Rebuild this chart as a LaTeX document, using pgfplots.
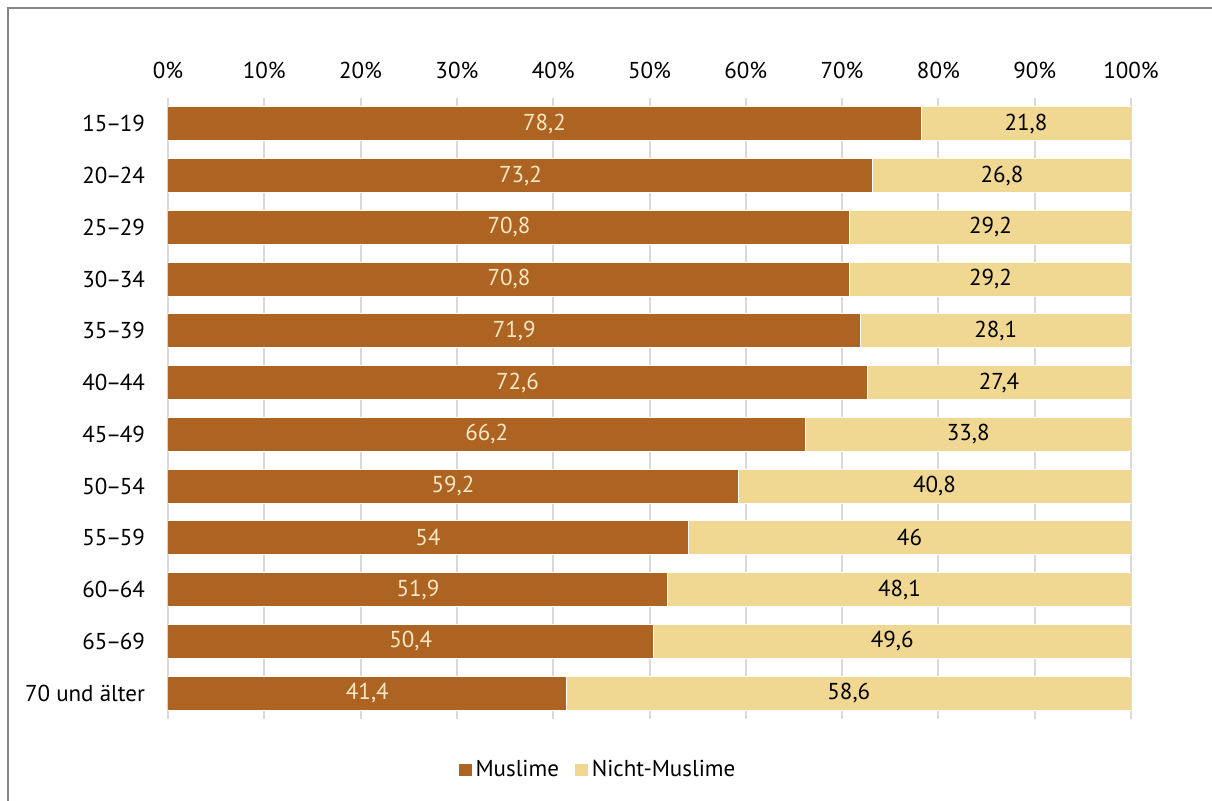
\documentclass[border=0pt]{standalone}
\usepackage{fontspec}
\setmainfont{PT Sans}
\usepackage{pgfplots}
\usepackage{pgfplotstable}
\pgfplotsset{compat=1.18}
\definecolor{mbrown}{HTML}{AD6322}
\definecolor{mlight}{HTML}{F0D893}
\definecolor{mlabel}{HTML}{F8E8C4}
\definecolor{gridgray}{HTML}{D9D9D9}
\definecolor{framegray}{HTML}{858585}
\newcommand{\dash}{\kern-0.06em–\kern-0.06em}
\pgfplotstableread{
y m n
11 78.2 21.8
10 73.2 26.8
9 70.8 29.2
8 70.8 29.2
7 71.9 28.1
6 72.6 27.4
5 66.2 33.8
4 59.2 40.8
3 54 46
2 51.9 48.1
1 50.4 49.6
0 41.4 58.6
}\data
\begin{document}
\fontsize{11.5pt}{13.8pt}\selectfont
\begin{tikzpicture}[x=1pt,y=1pt]
\useasboundingbox (0,0) rectangle (606,400.5);
\draw[framegray, line width=1pt] (4,0) -- (4,396.3) -- (606,396.3);
\begin{axis}[
  at={(84pt,41pt)}, anchor=south west,
  scale only axis, width=481.5pt, height=310.5pt,
  xbar stacked, bar width=17pt,
  xmin=0, xmax=100, ymin=-0.5, ymax=11.5,
  enlargelimits=false,
  axis line style={draw=none},
  major tick style={draw=none},
  xmajorgrids, grid style={gridgray, line width=1pt},
  xtick={0,10,...,100},
  xticklabel pos=upper,
  xticklabel={\pgfmathprintnumber{\tick}\%},
  xticklabel style={anchor=base, yshift=9.5pt},
  ytick={0,...,11},
  yticklabels={70 und älter,65\dash69,60\dash64,55\dash59,50\dash54,45\dash49,40\dash44,35\dash39,30\dash34,25\dash29,20\dash24,15\dash19},
  yticklabel style={anchor=east, xshift=-7.5pt},
  /pgf/number format/assume math mode=true,
  /pgf/number format/use comma,
  ticklabel style={font=\fontsize{11.5pt}{13.8pt}\selectfont},
  legend style={draw=none, legend columns=2, at={(0.4517,0)}, anchor=center, xshift=-2pt, yshift=-25.5pt,
    font=\fontsize{11.5pt}{13.8pt}\selectfont,
    /tikz/every even column/.append style={column sep=6pt}},
  legend image code/.code={\fill[#1, draw=none] (0pt,-3.2pt) rectangle (6.4pt,3.2pt);},
]
\addplot[fill=mbrown, draw=white, line width=0.5pt,
  point meta=explicit,
  nodes near coords,
  every node near coord/.append style={text=mlabel, anchor=center,
    font=\fontsize{11.5pt}{13.8pt}\selectfont}]
  table[x=m, y=y, meta=m] {\data};
\addlegendentry{Muslime}
\addplot[fill=mlight, draw=white, line width=0.5pt,
  point meta=explicit,
  nodes near coords,
  every node near coord/.append style={text=black, anchor=center,
    font=\fontsize{11.5pt}{13.8pt}\selectfont}]
  table[x=n, y=y, meta=n] {\data};
\addlegendentry{Nicht-Muslime}
\end{axis}
\end{tikzpicture}
\end{document}
